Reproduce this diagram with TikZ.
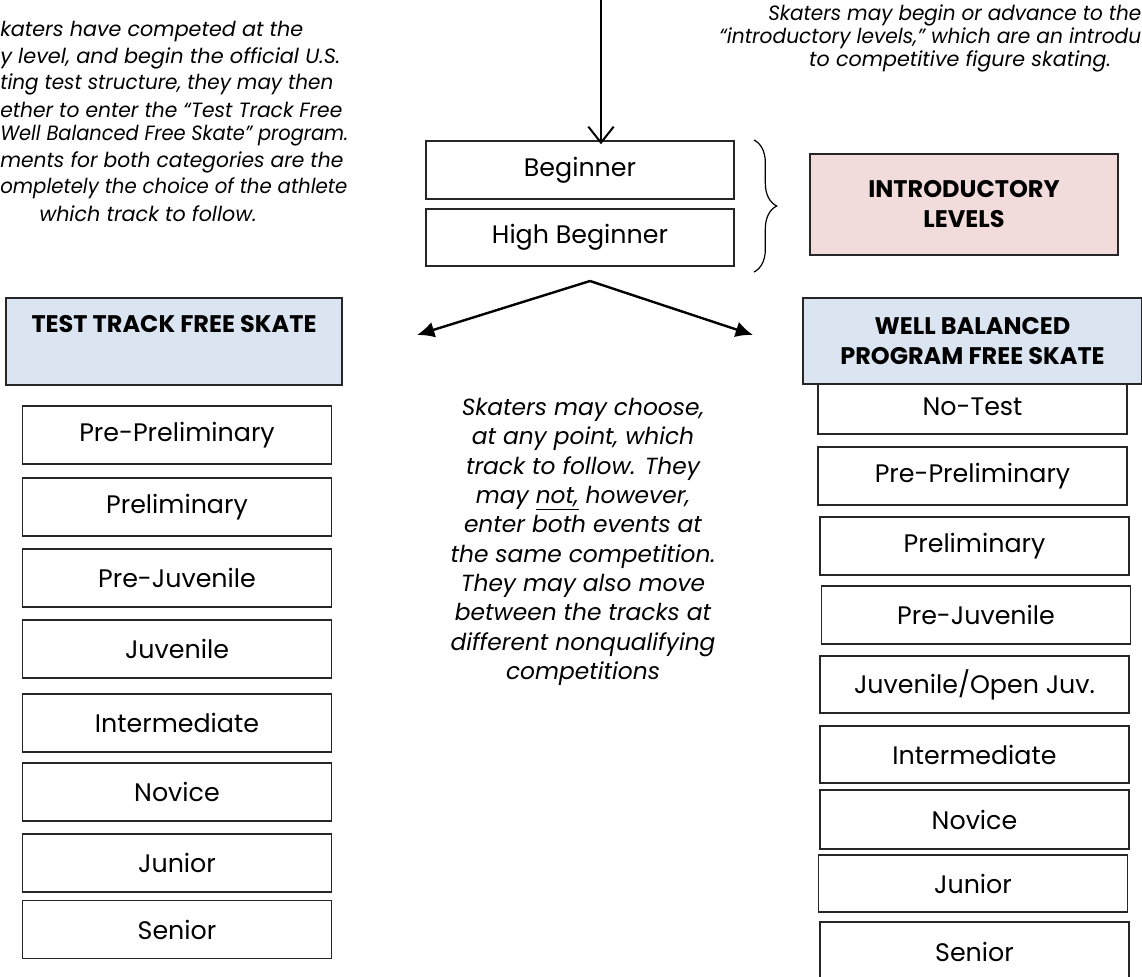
\documentclass[tikz,border=0pt]{standalone}
\usepackage{fontspec}
\usepackage{graphicx}
\setmainfont{Poppins}
\usetikzlibrary{arrows.meta,decorations.pathreplacing}
\definecolor{hdrblue}{HTML}{DBE5F1}
\definecolor{hdrpink}{HTML}{F2DCDB}
\newcommand{\fitw}[2]{\resizebox{#1}{\height}{#2}}
\begin{document}
\begin{tikzpicture}[x=0.75pt,y=-0.75pt,
  lvl/.style={draw=black!85, line width=1.1pt, fill=white, inner sep=0pt,
    minimum width=231.75pt, minimum height=43.5pt,
    font=\fontsize{19}{22}\selectfont},
  hdr/.style={draw=black!85, line width=1.1pt, fill=hdrblue, inner sep=0pt,
    align=center, font=\bfseries\fontsize{18}{22.5}\selectfont},
  note/.style={font=\itshape\fontsize{15.5}{16.5}\selectfont, inner sep=0pt},
  mid/.style={font=\itshape\fontsize{17.5}{22}\selectfont, align=center, inner sep=0pt},
  conn/.style={line width=1.8pt, black},
]
\useasboundingbox (0,0) rectangle (1142,976);
\clip (0,0) rectangle (1142,976);

% top notes (left, cut by the page edge)
\node[note, anchor=west] (l1) at (0,32) {\fitw{227.25pt}{katers have competed at the}};
\node[note, anchor=west] (l2) at (0,58) {\fitw{255pt}{y level, and begin the official U.S.}};
\node[note, anchor=west] (l3) at (0,84) {\fitw{249.75pt}{ting test structure, they may then}};
\node[note, anchor=west] (l4) at (0,110) {\fitw{256.5pt}{ether to enter the “Test Track Free}};
\node[note, anchor=west] (l5) at (0,136) {\fitw{261pt}{Well Balanced Free Skate” program.}};
\node[note, anchor=west] (l6) at (0,162) {\fitw{257.25pt}{ments for both categories are the}};
\node[note, anchor=west] (l7) at (0,188) {\fitw{260.25pt}{ompletely the choice of the athlete}};
\node[note] (l8) at (148,214) {which track to follow.};

% top note (right)
\node[note, anchor=west] (r1) at (768,15) {\fitw{279.75pt}{Skaters may begin or advance to the}};
\node[note, anchor=west] (r2) at (719,38) {\fitw{316.5pt}{“introductory levels,” which are an introdu}};
\node[note] (r3) at (960,61) {to competitive figure skating.};

% introductory levels
\node[lvl, minimum width=231pt, minimum height=43.5pt] (beg) at (580,170) {Beginner};
\node[lvl, minimum width=231pt, minimum height=42.75pt] (hbeg) at (580,237.5) {High Beginner};
\node[hdr, fill=hdrpink, minimum width=231pt, minimum height=75.75pt] (intro) at (964,204.5) {INTRODUCTORY\\LEVELS};
\draw[line width=0.9pt, decorate, decoration={brace, amplitude=17pt}] (754,140) -- (754,272);

\coordinate (top) at (601,0);
\draw[conn, -{Straight Barb[length=12pt, width=19pt, line width=1.5pt]}] (top) -- ([yshift=-3pt]top |- beg.north);

\coordinate (peak) at (590,281);
\coordinate (tl) at (417,335);
\coordinate (tr) at (753,335);
\draw[conn, -{Latex[length=13pt, width=12pt]}, line join=miter] (peak) -- (tl);
\draw[conn, -{Latex[length=13pt, width=12pt]}, line join=miter] (peak) -- (tr);

% left column
\node[hdr, minimum width=252pt, minimum height=65.25pt] (tt) at (174,341.5) {\strut TEST TRACK FREE SKATE\\\strut};
\node[lvl] (a1) at (177,435) {Pre-Preliminary};
\node[lvl] (a2) at (177,507) {Preliminary};
\node[lvl] (a3) at (177,578) {Pre-Juvenile};
\node[lvl] (a4) at (177,649) {Juvenile};
\node[lvl] (a5) at (177,723) {Intermediate};
\node[lvl] (a6) at (177,792) {Novice};
\node[lvl] (a7) at (177,863) {Junior};
\node[lvl] (a8) at (177,929.5) {Senior};

% middle note
\node[mid] (mnote) at (583,542) {Skaters may choose,\\at any point, which\\track to follow. They\\may \underline{not,} however,\\enter both events at\\the same competition.\\They may also move\\between the tracks at\\different nonqualifying\\competitions};

% right column
\node[lvl, minimum height=40.5pt] (b0) at (972.5,407) {No-Test};
\node[hdr, minimum width=254.25pt, minimum height=64.5pt] (wb) at (972.5,341) {WELL BALANCED\\PROGRAM FREE SKATE};
\node[lvl] (b1) at (972.5,476) {Pre-Preliminary};
\node[lvl] (b2) at (974.5,546) {Preliminary};
\node[lvl] (b3) at (976,615) {Pre-Juvenile};
\node[lvl, minimum height=42.75pt] (b4) at (974.5,684.5) {Juvenile/Open Juv.};
\node[lvl, minimum height=42.75pt] (b5) at (974.5,754.5) {Intermediate};
\node[lvl, minimum height=44.25pt] (b6) at (974.5,819.5) {Novice};
\node[lvl, minimum height=42.75pt] (b7) at (973,883.5) {Junior};
\node[lvl, minimum height=45pt] (b8) at (974.5,952) {Senior};
\end{tikzpicture}
\end{document}
